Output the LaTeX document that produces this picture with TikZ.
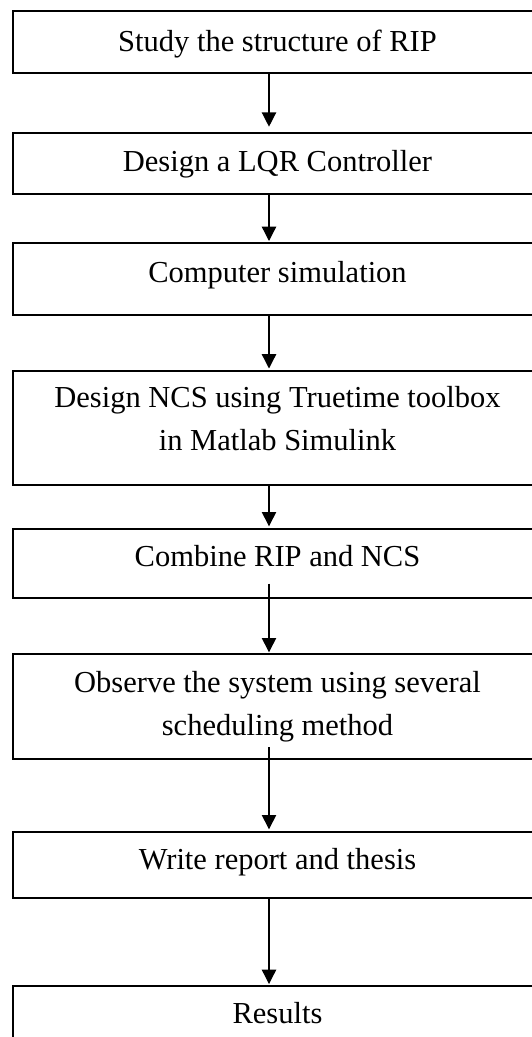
\documentclass[tikz,border=0pt]{standalone}
\usepackage{fontspec}
\setmainfont{Liberation Serif}
\usetikzlibrary{arrows.meta,calc}
\begin{document}
\begin{tikzpicture}[x=1pt,y=-1pt,
  stepbox/.style={draw=black, line width=2pt, rectangle, minimum width=531pt, inner sep=0pt, anchor=north west},
  lbl/.style={anchor=base, inner sep=0pt, font=\fontsize{30.5}{43}\selectfont},
  arr/.style={draw=black, line width=1.3pt, -{Triangle[width=14.3pt,length=14.3pt]}, shorten >=1pt}]
\useasboundingbox (0,0) rectangle (532,1037);
\clip (0,0) rectangle (532,1037);
\coordinate (ax) at (269,0);
% boxes
\node[stepbox, minimum height=62.3pt] (b1) at (12,10) {};
\node[stepbox, minimum height=61pt]   (b2) at (12,131.7) {};
\node[stepbox, minimum height=71.6pt] (b3) at (12,242) {};
\node[stepbox, minimum height=114.5pt] (b4) at (12,369.5) {};
\node[stepbox, minimum height=68.4pt] (b5) at (12,528.3) {};
\node[stepbox, minimum height=105pt]  (b6) at (12,653.3) {};
\node[stepbox, minimum height=66.3pt] (b7) at (12,831) {};
\node[stepbox, minimum height=80pt]   (b8) at (12,985) {};
% texts
\node[lbl] (t1) at (277.5,51) {Study the structure of RIP};
\node[lbl] (t2) at (277.5,171.7) {Design a LQR Controller};
\node[lbl] (t3) at (277.5,282) {Computer simulation};
\node[lbl] (t4a) at (277.5,407.7) {Design NCS using Truetime toolbox};
\node[lbl] (t4b) at (277.5,450) {in Matlab Simulink};
\node[lbl] (t5) at (277.5,566.7) {Combine RIP and NCS};
\node[lbl] (t6a) at (277.5,692.7) {Observe the system using several};
\node[lbl] (t6b) at (277.5,735.7) {scheduling method};
\node[lbl] (t7) at (277.5,869.3) {Write report and thesis};
\node[lbl] (t8) at (277.5,1023) {Results};
% arrows
\draw[arr, shorten >=5pt] (b1.south -| ax) -- (b2.north -| ax);
\draw[arr] (b2.south -| ax) -- (b3.north -| ax);
\draw[arr] (b3.south -| ax) -- (b4.north -| ax);
\draw[arr, shorten >=2pt] (b4.south -| ax) -- (b5.north -| ax);
\draw[arr] ($(b5.south -| ax)+(0,-15)$) -- (b6.north -| ax);
\draw[arr, shorten >=1.7pt] ($(b6.south -| ax)+(0,-13)$) -- (b7.north -| ax);
\draw[arr] (b7.south -| ax) -- (b8.north -| ax);
\end{tikzpicture}
\end{document}
